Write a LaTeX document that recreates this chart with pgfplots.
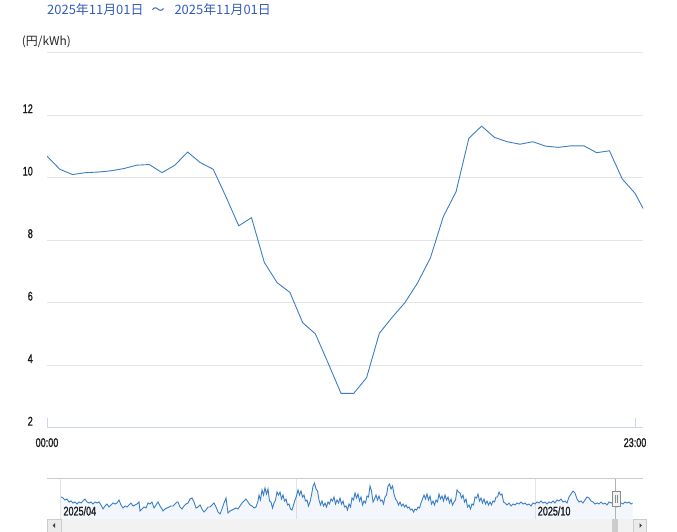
\documentclass[border=0pt]{standalone}
\usepackage{fontspec}
\setmainfont{Liberation Sans}
\newfontfamily\cond{Liberation Sans}[FakeStretch=0.72, FakeBold=1.2]
\newfontfamily\cjk{Noto Sans CJK JP}
\usepackage{pgfplots}
\pgfplotsset{compat=1.18}
\usepackage{pgfplotstable}

\definecolor{series}{RGB}{58,126,198}
\definecolor{gridc}{RGB}{228,228,228}
\definecolor{axisc}{RGB}{204,214,235}
\definecolor{titlec}{RGB}{51,92,186}
\definecolor{scroll}{RGB}{242,242,242}

% price for 2025-11-01, every 30 minutes
\pgfplotstableread{
t price
0 10.70
0.5 10.28
1 10.11
1.5 10.17
2 10.19
2.5 10.23
3 10.30
3.5 10.41
4 10.43
4.5 10.17
5 10.41
5.5 10.83
6 10.49
6.5 10.28
7 9.40
7.5 8.47
8 8.73
8.5 7.30
9 6.65
9.5 6.34
10 5.37
10.5 5.01
11 4.07
11.5 3.11
12 3.11
12.5 3.61
13 5.03
13.5 5.54
14 6.01
14.5 6.65
15 7.45
15.5 8.76
16 9.56
16.5 11.27
17 11.66
17.5 11.30
18 11.16
18.5 11.08
19 11.16
19.5 11.02
20 10.98
20.5 11.03
21 11.03
21.5 10.81
22 10.87
22.5 9.97
23 9.51
23.5 8.75
}\price

% navigator series (x in navigator px, height above bottom)
\pgfplotstableread{
x h
61 22
63 21
65 19
67 20
69 17
71 18
73 16
75 17
77 15
79 17
81 16
83 18
85 20
87 17
89 16
91 17
93 15
95 17
97 16
99 17
101 14
103 10
105 13
107 15
109 12
111 14
113 16
115 15
117 16
119 19
121 14
123 11
125 13
127 12
129 14
131 16
133 13
135 14
137 15
139 17
140 8
142 10
144 12
146 11
148 16
150 15
152 17
154 11
156 14
158 17
160 13
162 10
163 8
165 10
167 11
169 12
171 13
173 13
175 15
177 17
178 17
180 12
182 10
184 13
186 15
188 16
190 20
192 21
194 17
196 11
198 12
200 14
202 10
204 7
206 9
208 12
210 12
212 14
214 16
216 12
218 7
220 5
222 10
224 16
226 21
228 6
230 8
232 9
234 10
236 11
238 10
240 13
242 16
244 18
246 20
248 17
250 14
252 13
254 11
256 12
258 18
259 24
260.5 19
262 29
263.5 24
265 31
266.5 25
268 30
269.5 18
271 17
272.5 11
274 16
275.5 19
277 27
278.5 24
280 27
281.5 20
283 24
284.5 18
286 20
287.5 14
289 15
290.5 10
292 9
293.5 14
295 19
296.5 23
298 29
299.5 24
301 28
302.5 22
304 24
305.5 18
307 19
308.5 13
310 17
311.5 24
313 33
314.5 36
316 30
317.5 28
319 19
320.5 14
322 18
323.5 13
325 16
326.5 12
328 17
329.5 15
331 20
332.5 18
334 22
335.5 15
337 19
338.5 16
340 21
341.5 15
343 18
344.5 12
346 13
347.5 9
349 15
350.5 12
352 21
353.5 19
355 26
356.5 21
358 25
359.5 18
361 22
362.5 14
364 18
365.5 16
367 23
368.5 22
370 33
371.5 28
373 17
374.5 20
376 24
377.5 19
379 23
380.5 18
382 19
383.5 15
385 22
386.5 24
388 33
389.5 35
391 30
392.5 33
394 25
395.5 20
397 18
398.5 14
400 17
401.5 13
403 15
404.5 12
406 14
407.5 11
409 12
410.5 9
412 10
413.5 7
415 10
416.5 9
418 12
419.5 11
421 16
422.5 20
424 24
425.5 20
427 25
428.5 19
430 23
431.5 15
433 18
434.5 14
436 19
437.5 17
439 25
440.5 20
442 23
443.5 18
445 24
446.5 19
448 22
449.5 16
451 20
452.5 14
454 17
455.5 19
457 29
458.5 27
460 26
461.5 21
463 24
464.5 17
466 20
467.5 12
469 14
470.5 10
472 15
473.5 14
475 22
476.5 21
478 25
479.5 18
481 21
482.5 16
484 20
485.5 15
487 18
488.5 14
490 17
491.5 14
493 18
494.5 17
496 22
497.5 22
499 27
500.5 24
502 25
503.5 17
505 16
507 14
509 16
511 13
513 15
515 14
517 16
519 15
521 17
523 15
525 16
527 14
529 15
531 13
533 16
535 15
537 17
539 16
541 18
543 16
545 17
547 15
549 17
551 16
553 18
555 16
557 19
559 18
561 20
563 17
565 18
567 16
569 22
571 25
573 28
575 26
577 20
579 17
581 18
583 16
585 19
587 22
589 21
591 18
593 17
595 15
597 16
599 15
601 17
603 15
605 16
607 14
609 17
611 16
613 17
615 16
617 12
619 14
621 16
623 15
625 17
627 16
629 17
631 15
632.5 16
}\nav

\begin{document}
\begin{tikzpicture}[x=1bp,y=1bp]

% main chart
\begin{axis}[
  at={(47bp,104bp)}, anchor=south west,
  scale only axis, width=596bp, height=375bp,
  xmin=0, xmax=23.313, ymin=2, ymax=14,
  xtick={0,23}, xticklabels={00:00,23:00},
  ytick={2,4,6,8,10,12,14}, yticklabels={2,4,6,8,10,12,},
  ymajorgrids, major grid style={gridc, line width=1bp},
  axis x line*=bottom, axis y line*=left,
  x axis line style={axisc, line width=1bp, -},
  y axis line style={draw=none},
  xtick style={axisc, line width=1bp}, ytick style={draw=none},
  tick align=inside, major tick length=10bp,
  tick label style={font=\cond\fontsize{12.6}{13}\selectfont, text=black!90},
  yticklabel style={anchor=east, inner sep=0pt, xshift=-14bp, yshift=6.8bp},
  xticklabel style={anchor=north, inner sep=0pt, yshift=-10bp},
]
\addplot[series, line width=0.9bp] table[x=t, y=price]{\price};
\end{axis}

% navigator
\begin{axis}[
  at={(47bp,13bp)}, anchor=south west,
  scale only axis, width=596bp, height=40bp,
  xmin=47, xmax=643, ymin=0, ymax=40,
  axis line style={draw=none}, tick style={draw=none},
  ytick=\empty,
  xtick={60.7,296.7,535}, xticklabels={2025/04,,2025/10},
  xmajorgrids, major grid style={gridc, line width=1bp},
  xticklabel style={font=\cond\fontsize{12.6}{13}\selectfont, text=black!90,
    anchor=south west, inner sep=0pt, xshift=2.6bp, yshift=3.2bp},
]
\addplot[fill=series, fill opacity=0.06, draw=none] table[x=x, y=h]{\nav} \closedcycle;
\addplot[series, line width=0.9bp] table[x=x, y=h]{\nav};
\end{axis}

% navigator outline and scrollbar
\draw[black!20, line width=1bp] (47,53) -- (643,53);
\fill[scroll] (47,0) rectangle (646,13);
\draw[black!20, fill=black!8] (47,0) rectangle (60.7,13);
\fill[black!75] (52.5,6.5) -- (55,8.8) -- (55,4.2) -- cycle;
\draw[black!20, fill=black!8] (633,0) rectangle (646,13);
\fill[black!75] (642,6.5) -- (639.5,8.8) -- (639.5,4.2) -- cycle;
\fill[black!20] (611.7,0) rectangle (618.3,13);
\draw[black!30, line width=1.5bp] (615.3,13) -- (615.3,53);
\draw[black!45, fill=black!5] (611.7,26) rectangle (620.5,40.3);
\draw[black!45] (614.8,29) -- (614.8,37.3);
\draw[black!45] (617.3,29) -- (617.3,37.3);

% texts
\node[anchor=west, inner sep=0pt, text=titlec, font=\cjk\fontsize{13}{15}\selectfont]
  at (47,522) {2025年11月01日\hspace{8bp}〜\hspace{10bp}2025年11月01日};
\node[anchor=west, inner sep=0pt, text=black!85, font=\cjk\fontsize{12}{14}\selectfont]
  at (21.7,490.3) {(円/kWh)};

\pgfresetboundingbox
\useasboundingbox (0,0) rectangle (677,532);
\end{tikzpicture}
\end{document}
